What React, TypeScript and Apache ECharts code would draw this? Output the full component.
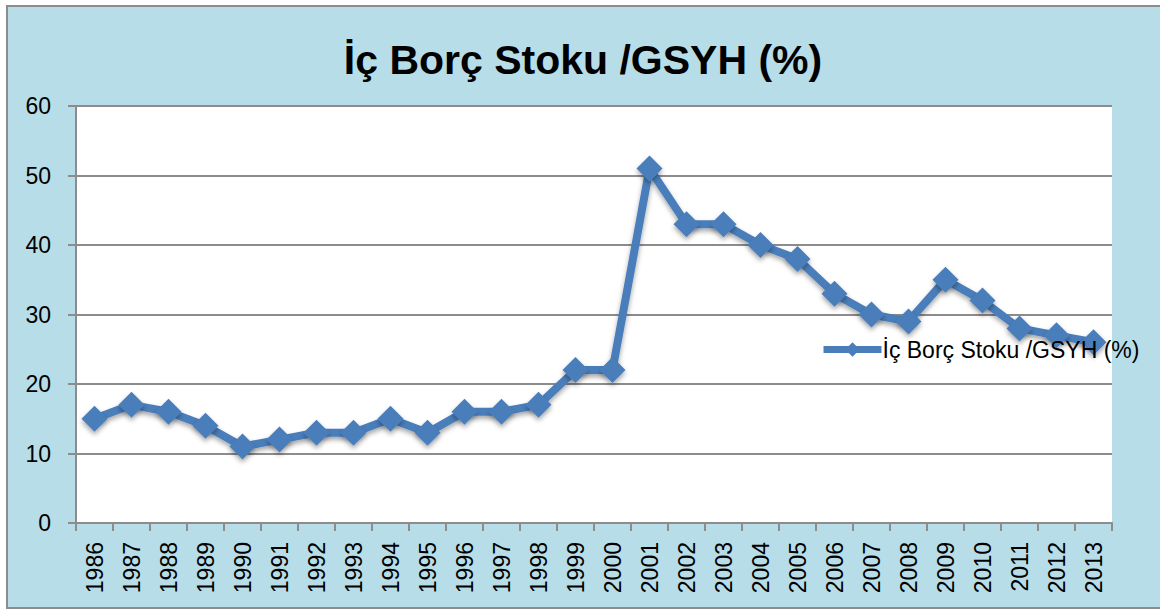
import React, { useEffect, useRef } from "react";
import * as echarts from "echarts";

const years = ["1986","1987","1988","1989","1990","1991","1992","1993","1994","1995","1996","1997","1998","1999","2000","2001","2002","2003","2004","2005","2006","2007","2008","2009","2010","2011","2012","2013"];
const values = [15,17,16,14,11,12,13,13,15,13,16,16,17,22,22,51,43,43,40,38,33,30,29,35,32,28,27,26];
const seriesName = "İç Borç Stoku /GSYH (%)";
const titleText = "İç Borç Stoku /GSYH (%)";

export default function App() {
  const ref = useRef<HTMLDivElement>(null);
  useEffect(() => {
    if (!ref.current) return;
    const chart = echarts.init(ref.current, null, { renderer: "svg" });
    const font = "'Liberation Sans', 'DejaVu Sans', sans-serif";
    chart.setOption({
      animation: false,
      backgroundColor: "#ffffff",
      graphic: [
        {
          type: "rect",
          z: -10,
          silent: true,
          shape: { x: 7, y: 6, width: 1160, height: 602 },
          style: { fill: "#B7DDE8", stroke: "#8c8c8c", lineWidth: 2 },
        },
        {
          type: "rect",
          z: -9,
          silent: true,
          shape: { x: 76, y: 106, width: 1036, height: 417 },
          style: { fill: "#ffffff" },
        },
      ],
      title: {
        text: titleText,
        left: 578,
        textAlign: "center",
        top: 34,
        textStyle: { fontFamily: font, fontSize: 41, fontWeight: "bold", color: "#000" },
      },
      legend: {
        data: [seriesName],
        left: 815,
        top: 333,
        itemWidth: 58,
        itemHeight: 18,
        itemGap: 0,
        lineStyle: { width: 7 },
        textStyle: { fontFamily: font, fontSize: 23, color: "#000", padding: [0, 0, 0, -4] },
      },
      grid: { left: 76, top: 106, width: 1036, height: 417, containLabel: false },
      xAxis: {
        type: "category",
        data: years,
        boundaryGap: true,
        axisLine: { lineStyle: { color: "#8c8c8c", width: 2 } },
        axisTick: { show: true, length: 8, interval: 0, lineStyle: { color: "#8c8c8c", width: 2 } },
        axisLabel: { rotate: 90, interval: 0, margin: 19, fontFamily: font, fontSize: 23, color: "#000" },
      },
      yAxis: {
        type: "value",
        min: 0,
        max: 60,
        interval: 10,
        axisLine: { show: true, lineStyle: { color: "#8c8c8c", width: 2 } },
        axisTick: { show: true, length: 8, lineStyle: { color: "#8c8c8c", width: 2 } },
        axisLabel: { margin: 25, fontFamily: font, fontSize: 23, color: "#000" },
        splitLine: { lineStyle: { color: "#8c8c8c", width: 2 } },
      },
      series: [
        {
          name: seriesName,
          type: "line",
          data: values,
          symbol: "diamond",
          symbolSize: 26,
          color: "#4A7EBB",
          lineStyle: {
            width: 8,
            color: "#4A7EBB",
            shadowColor: "rgba(0,0,0,0.35)",
            shadowBlur: 5,
            shadowOffsetY: 3,
          },
          itemStyle: {
            color: "#4A7EBB",
            shadowColor: "rgba(0,0,0,0.35)",
            shadowBlur: 5,
            shadowOffsetY: 3,
          },
        },
      ],
    });
    return () => chart.dispose();
  }, []);
  return (
    <div
      ref={ref}
      style={{ position: "absolute", left: 0, top: 0, width: 1160, height: 610 }}
    />
  );
}
